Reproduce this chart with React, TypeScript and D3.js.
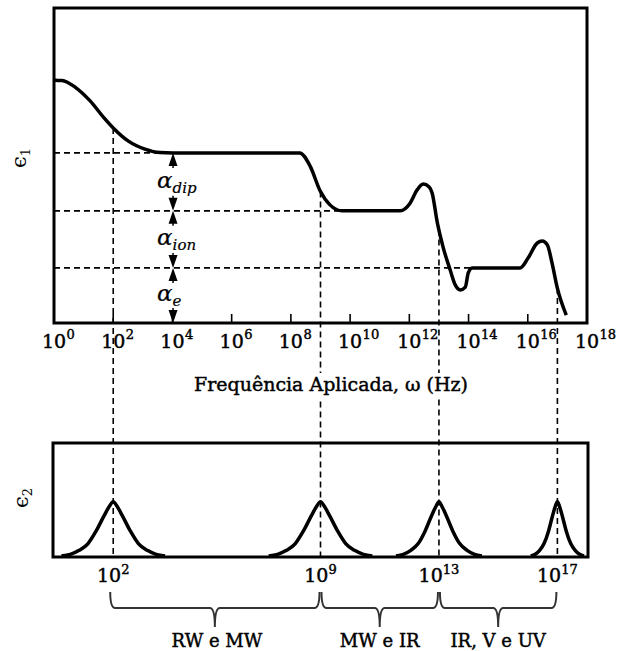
import React from 'react';
import * as d3 from 'd3';

// frequency exponents (log10 ω) shown as tick labels
const decadeTicks = [0, 2, 4, 6, 8, 10, 12, 14, 16, 18];

// ε1 curve, [log10 ω, ε1 (arbitrary units)]
const eps1Curve: [number, number][] = [
  [0, 7.71], [0.27, 7.7], [0.71, 7.49], [1.22, 7.05], [1.69, 6.51], [2.0, 6.19],
  [2.5, 5.78], [3.07, 5.52], [3.58, 5.41], [4.02, 5.4], [8.3, 5.4], [8.65, 4.98],
  [8.99, 4.19], [9.32, 3.75], [9.73, 3.56], [11.69, 3.56], [12.03, 3.81], [12.26, 4.22],
  [12.47, 4.41], [12.67, 4.32], [12.77, 4.13], [12.94, 3.21], [13.14, 2.41], [13.38, 1.68],
  [13.55, 1.21], [13.72, 1.05], [13.89, 1.14], [13.99, 1.59], [14.12, 1.75], [15.74, 1.75],
  [16.01, 2.06], [16.32, 2.54], [16.49, 2.6], [16.66, 2.48], [16.82, 1.9], [16.99, 1.14],
  [17.3, 0.25],
];

// plateau levels of ε1 and where their dashed guides stop
const levelValues = [5.4, 3.56, 1.75];
const levelEnds = [4.02, 9.73, 14.12];

// polarisation contributions between the levels
const alphaSubs = ['dip', 'ion', 'e'];
const alphaAt = 4.02;

// resonance frequencies
const resonances = [2, 9, 13, 17];

// ε2 absorption peaks, [log10 ω, ε2]
const eps2Peaks: [number, number][][] = [
  [[0.25, 0], [0.55, 0.015], [0.85, 0.05], [1.15, 0.11], [1.42, 0.22], [1.68, 0.35], [1.87, 0.44], [2, 0.48],
   [2.13, 0.44], [2.32, 0.35], [2.58, 0.22], [2.85, 0.11], [3.15, 0.05], [3.45, 0.015], [3.75, 0]],
  [[7.25, 0], [7.55, 0.015], [7.85, 0.05], [8.15, 0.11], [8.42, 0.22], [8.68, 0.35], [8.87, 0.44], [9, 0.48],
   [9.13, 0.44], [9.32, 0.35], [9.58, 0.22], [9.85, 0.11], [10.15, 0.05], [10.45, 0.015], [10.75, 0]],
  [[11.55, 0], [11.8, 0.015], [12.05, 0.05], [12.3, 0.11], [12.53, 0.22], [12.74, 0.35], [12.9, 0.44], [13, 0.48],
   [13.1, 0.44], [13.26, 0.35], [13.47, 0.22], [13.7, 0.11], [13.95, 0.05], [14.2, 0.015], [14.45, 0]],
  [[16.1, 0], [16.25, 0.015], [16.4, 0.05], [16.55, 0.11], [16.7, 0.22], [16.83, 0.35], [16.93, 0.44], [17, 0.48],
   [17.07, 0.44], [17.17, 0.35], [17.3, 0.22], [17.45, 0.11], [17.6, 0.05], [17.75, 0.015], [17.9, 0]],
];

// spectral bands under the ε2 panel
const bandFrom = [2, 9, 13];
const bandTo = [9, 13, 17];
const bandLabels = ['RW e MW', 'MW e IR', 'IR, V e UV'];

const FONT = 'DejaVu Serif';

export default function App() {
  const x = d3.scaleLinear().domain([0, 18]).range([54, 587]);
  const y1 = d3.scaleLinear().domain([0, 10]).range([323, 8]);
  const y2 = d3.scaleLinear().domain([0, 1]).range([556, 443]);

  const line1 = d3.line<[number, number]>()
    .x(d => x(d[0]))
    .y(d => y1(d[1]))
    .curve(d3.curveMonotoneX);
  const line2 = d3.line<[number, number]>()
    .x(d => x(d[0]))
    .y(d => y2(d[1]))
    .curve(d3.curveMonotoneX);

  // value of ε1 at a frequency, to start the dashed guides on the curve
  const eps1At = (l: number) => {
    const i = d3.bisector((d: [number, number]) => d[0]).left(eps1Curve, l);
    const a = eps1Curve[Math.max(0, i - 1)];
    const b = eps1Curve[Math.min(eps1Curve.length - 1, i)];
    if (a[0] === b[0]) return a[1];
    return a[1] + (b[1] - a[1]) * (l - a[0]) / (b[0] - a[0]);
  };

  const dash = '6,4';
  const ax = x(alphaAt);
  const bounds = [...levelValues, 0];
  const ink = { stroke: '#000', strokeWidth: 0.45 };

  const brace = (x0: number, x1: number) => {
    const top = 592, mid = 608, tip = 627, r = 5;
    const xm = (x0 + x1) / 2;
    return `M${x0},${top} Q${x0},${mid} ${x0 + r},${mid} L${xm - r},${mid} Q${xm},${mid} ${xm},${tip}` +
      ` Q${xm},${mid} ${xm + r},${mid} L${x1 - r},${mid} Q${x1},${mid} ${x1},${top}`;
  };

  return (
    <div style={{ position: 'absolute', left: 0, top: 0 }}>
      <svg width={621} height={651} style={{ display: 'block', background: '#fff' }}>
        {/* dashed guides */}
        {levelValues.map((v, i) => (
          <line key={'h' + i} x1={x(0)} x2={x(levelEnds[i])} y1={y1(v)} y2={y1(v)}
            stroke="#000" strokeWidth={1.6} strokeDasharray={dash} />
        ))}
        {resonances.map(r => (
          <line key={'v' + r} x1={x(r)} x2={x(r)} y1={y1(eps1At(r))} y2={y2(0)}
            stroke="#000" strokeWidth={1.6} strokeDasharray={dash} />
        ))}

        {/* top panel */}
        <rect x={x(0)} y={y1(10)} width={x(18) - x(0)} height={y1(0) - y1(10)}
          fill="none" stroke="#000" strokeWidth={3} />
        {decadeTicks.slice(1, -1).map(t => (
          <line key={'t' + t} x1={x(t)} x2={x(t)} y1={y1(0)} y2={y1(0) - 9} stroke="#000" strokeWidth={1.6} />
        ))}
        <path d={line1(eps1Curve) || ''} fill="none" stroke="#000" strokeWidth={3.5} strokeLinejoin="round" />

        {/* polarisation arrows */}
        {alphaSubs.map((s, i) => {
          const yt = y1(bounds[i]);
          const yb = y1(bounds[i + 1]);
          return (
            <g key={s}>
              <path d={`M${ax},${yt} L${ax - 4.5},${yt + 13} L${ax + 4.5},${yt + 13} Z`} fill="#000" />
              <line x1={ax} x2={ax} y1={yt + 12} y2={yt + 15} stroke="#000" strokeWidth={1.5} />
              <path d={`M${ax},${yb} L${ax - 4.5},${yb - 13} L${ax + 4.5},${yb - 13} Z`} fill="#000" />
              <line x1={ax} x2={ax} y1={yb - 12} y2={yb - 15} stroke="#000" strokeWidth={1.5} />
              <text x={ax - 16} y={(yt + yb) / 2 + 6} fontFamily={FONT} fontStyle="italic" fontSize={23}
                stroke="#000" strokeWidth={0.2}>
                α<tspan fontSize={15} dy={5}>{s}</tspan>
              </text>
            </g>
          );
        })}

        {/* x tick labels */}
        {decadeTicks.map(t => (
          <g key={'l' + t} fontFamily={FONT} {...ink}>
            <text x={x(t)} y={348} textAnchor="middle" fontSize={19}>10</text>
            <text x={x(t) + 12.5} y={339} fontSize={13}>{t}</text>
          </g>
        ))}
        <rect x={188} y={373} width={286} height={25} fill="#fff" />
        <text x={331} y={391} textAnchor="middle" fontFamily={FONT} fontSize={19} {...ink}>
          Frequência Aplicada, ω (Hz)
        </text>
        <text transform="translate(26,168) rotate(-90)" fontFamily={FONT} fontSize={21}>
          ϵ<tspan fontSize={13} dy={4}>1</tspan>
        </text>

        {/* bottom panel */}
        <rect x={53} y={y2(1)} width={535} height={y2(0) - y2(1) + 1}
          fill="none" stroke="#000" strokeWidth={3} />
        {eps2Peaks.map((p, i) => (
          <path key={'p' + i} d={line2(p) || ''} fill="none" stroke="#000" strokeWidth={3.5} strokeLinejoin="round" />
        ))}
        <text transform="translate(28,508) rotate(-90)" fontFamily={FONT} fontSize={21}>
          ϵ<tspan fontSize={13} dy={4}>2</tspan>
        </text>
        {resonances.map(r => (
          <text key={'r' + r} x={x(r)} y={582} textAnchor="middle" fontFamily={FONT} fontSize={19} {...ink}>
            10<tspan fontSize={13} dy={-8}>{r}</tspan>
          </text>
        ))}

        {/* bands */}
        {bandLabels.map((b, i) => (
          <g key={b}>
            <path d={brace(x(bandFrom[i]) + (i ? 1 : -3), x(bandTo[i]) - 1)} fill="none" stroke="#333" strokeWidth={2} />
            <text x={(x(bandFrom[i]) + x(bandTo[i])) / 2} y={647} textAnchor="middle" fontFamily={FONT} fontSize={18} {...ink}>
              {b}
            </text>
          </g>
        ))}
      </svg>
    </div>
  );
}
